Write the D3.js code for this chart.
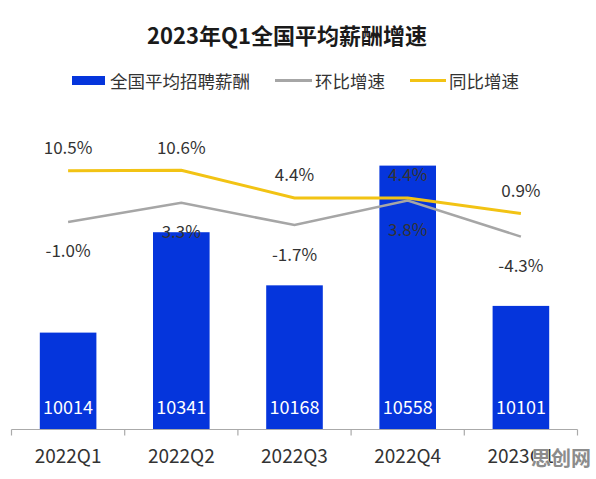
<!DOCTYPE html>
<html><head><meta charset="utf-8">
<script src="https://cdn.jsdelivr.net/npm/d3@7"></script>
<style>
html,body{margin:0;padding:0;background:#fff;}
svg{display:block;font-family:"Noto Sans CJK SC","Noto Sans",sans-serif;}
</style></head>
<body>
<svg id="chart" width="596" height="479"></svg>
<script>
const categories = ["2022Q1","2022Q2","2022Q3","2022Q4","2023Q1"];
const salary = [10014, 10341, 10168, 10558, 10101];
const qoq = [-1.0, 3.3, -1.7, 3.8, -4.3];   // 环比增速
const yoy = [10.5, 10.6, 4.4, 4.4, 0.9];    // 同比增速
const title = "2023年Q1全国平均薪酬增速";
const legendLabels = ["全国平均招聘薪酬","环比增速","同比增速"];

const svg = d3.select("#chart");
const BLUE = "#0535dc", GRAY = "#a6a6a6", GOLD = "#f2c314", TXT = "#333";

const x = d3.scaleBand().domain(categories).range([11.5, 577.5]).paddingInner(0.5).paddingOuter(0.25);
const y = d3.scaleLinear().domain([9700, 10560]).range([429, 165]);
const y2 = d3.scaleLinear().domain([-5, 12]).range([239.75, 164.1]);

// title
svg.append("text").attr("x", 287).attr("y", 34).attr("text-anchor","middle")
  .attr("dominant-baseline","central").attr("font-size", 22).attr("font-weight","bold")
  .attr("fill","#1a1a1a").text(title);

// legend
const lg = svg.append("g");
lg.append("rect").attr("x",72).attr("y",76).attr("width",33).attr("height",9).attr("fill",BLUE);
lg.append("text").attr("x",110).attr("y",80.5).attr("dominant-baseline","central").attr("font-size",17.5).attr("fill",TXT).text(legendLabels[0]);
lg.append("line").attr("x1",275).attr("x2",312).attr("y1",80.5).attr("y2",80.5).attr("stroke",GRAY).attr("stroke-width",3);
lg.append("text").attr("x",315).attr("y",80.5).attr("dominant-baseline","central").attr("font-size",17.5).attr("fill",TXT).text(legendLabels[1]);
lg.append("line").attr("x1",410).attr("x2",446).attr("y1",80.5).attr("y2",80.5).attr("stroke",GOLD).attr("stroke-width",3);
lg.append("text").attr("x",449).attr("y",80.5).attr("dominant-baseline","central").attr("font-size",17.5).attr("fill",TXT).text(legendLabels[2]);

// bars
svg.append("g").selectAll("rect").data(salary).join("rect")
  .attr("x",(d,i)=>x(categories[i])).attr("width",x.bandwidth())
  .attr("y",d=>y(d)).attr("height",d=>y.range()[0]-y(d)).attr("fill",BLUE);

svg.append("g").selectAll("text").data(salary).join("text")
  .attr("x",(d,i)=>x(categories[i])+x.bandwidth()/2).attr("y",406)
  .attr("text-anchor","middle").attr("dominant-baseline","central")
  .attr("font-size",18).attr("fill","#fff").text(d=>d);

// x axis
const ax = svg.append("g");
ax.append("line").attr("x1",x.range()[0]).attr("x2",x.range()[1]).attr("y1",429.5).attr("y2",429.5)
  .attr("stroke","#aaa").attr("stroke-width",1.2);
const bounds = categories.map(c=>x(c)-x.step()*x.paddingInner()/2).concat([x.range()[1]]);
ax.selectAll("line.t").data(bounds).join("line").attr("class","t")
  .attr("x1",d=>d).attr("x2",d=>d).attr("y1",429.5).attr("y2",435.5)
  .attr("stroke","#aaa").attr("stroke-width",1.2);
ax.selectAll("text").data(categories).join("text")
  .attr("x",d=>x(d)+x.bandwidth()/2).attr("y",454)
  .attr("text-anchor","middle").attr("dominant-baseline","central")
  .attr("font-size",19).attr("fill",TXT).text(d=>d);

// lines
const cx = i => x(categories[i]) + x.bandwidth()/2;
const line = d3.line().x((d,i)=>cx(i)).y(d=>y2(d));
svg.append("path").datum(qoq).attr("d",line).attr("fill","none").attr("stroke",GRAY).attr("stroke-width",2.5);
svg.append("path").datum(yoy).attr("d",line).attr("fill","none").attr("stroke",GOLD).attr("stroke-width",3);

// line labels
svg.append("g").selectAll("text").data(yoy).join("text")
  .attr("x",(d,i)=>cx(i)).attr("y",d=>y2(d)-24)
  .attr("text-anchor","middle").attr("dominant-baseline","central")
  .attr("font-size",17).attr("fill",TXT).text(d=>d.toFixed(1)+"%");
svg.append("g").selectAll("text").data(qoq).join("text")
  .attr("x",(d,i)=>cx(i)).attr("y",d=>y2(d)+28)
  .attr("text-anchor","middle").attr("dominant-baseline","central")
  .attr("font-size",17).attr("fill",TXT).text(d=>d.toFixed(1)+"%");

// watermark
svg.append("text").attr("x",561).attr("y",457).attr("text-anchor","middle")
  .attr("dominant-baseline","central").attr("font-size",20).attr("font-weight","bold")
  .attr("fill","#8c8c8c").attr("stroke","#fff").attr("stroke-width",0.8).attr("paint-order","stroke")
  .text("思创网");
</script>
</body></html>
